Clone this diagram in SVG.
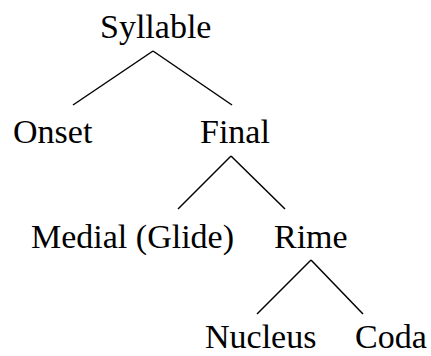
<svg xmlns="http://www.w3.org/2000/svg" width="431" height="356" viewBox="0 0 431 356">
<style>
text{font-family:"Liberation Serif","Times New Roman",serif;font-size:34px;fill:#000}
.e line{stroke:#000;stroke-width:1.5;stroke-linecap:butt}
</style>
<rect width="431" height="356" fill="#fff"/>
<g class="e" id="connectors">
<line x1="153" y1="51" x2="73" y2="105"/>
<line x1="153" y1="51" x2="232" y2="105"/>
<line x1="231" y1="156" x2="178" y2="209"/>
<line x1="231" y1="156" x2="285" y2="209"/>
<line x1="311" y1="260" x2="257" y2="314"/>
<line x1="311" y1="260" x2="363" y2="314"/>
</g>
<g id="syllable"><text x="100" y="38">Syllable</text></g>
<g id="onset"><text x="13" y="143">Onset</text></g>
<g id="final"><text x="200" y="143">Final</text></g>
<g id="medial"><text x="31" y="248">Medial (Glide)</text></g>
<g id="rime"><text x="274" y="248">Rime</text></g>
<g id="nucleus"><text x="205" y="348">Nucleus</text></g>
<g id="coda"><text x="355" y="348">Coda</text></g>
</svg>
